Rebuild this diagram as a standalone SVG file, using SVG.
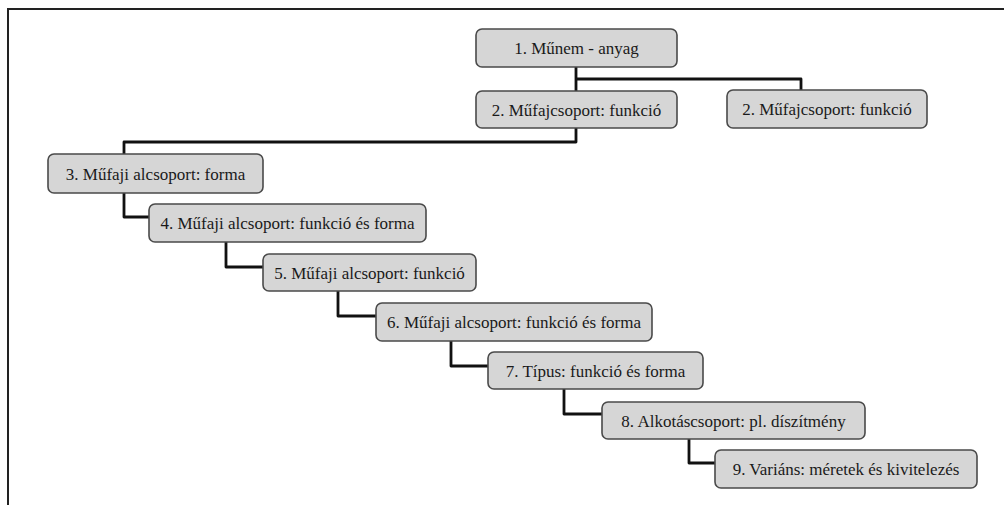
<svg xmlns="http://www.w3.org/2000/svg" width="1004" height="505" viewBox="0 0 1004 505">
<style>
.box{fill:#d6d6d6;stroke:#4a4a4a;stroke-width:1.6}
.lbl{font-family:"Liberation Serif","Times New Roman",serif;font-size:17px;fill:#1a1a1a;text-anchor:middle}
.con{fill:none;stroke:#111;stroke-width:2.8;stroke-linejoin:round}
.frame{fill:none;stroke:#222;stroke-width:2}
</style>
<rect width="1004" height="505" fill="#ffffff"/>
<path class="frame" d="M8,505 V9 H1004"/>
<g id="connectors">
<path class="con" d="M576,67 V91"/>
<path class="con" d="M576,79 H801 V90"/>
<path class="con" d="M576,128 V142 H124 V154"/>
<path class="con" d="M124,193 V217 H149"/>
<path class="con" d="M226,242 V267 H263"/>
<path class="con" d="M338,291 V316 H376"/>
<path class="con" d="M451,341 V366 H488"/>
<path class="con" d="M564,389 V414 H602"/>
<path class="con" d="M689,439 V463 H715"/>
</g>
<g id="n1"><rect class="box" x="476" y="29" width="201" height="38" rx="6"/><text class="lbl" x="576.5" y="54">1. Műnem - anyag</text></g>
<g id="n2a"><rect class="box" x="476" y="91" width="201" height="37" rx="6"/><text class="lbl" x="576.5" y="115.5">2. Műfajcsoport: funkció</text></g>
<g id="n2b"><rect class="box" x="727" y="90" width="200" height="38" rx="6"/><text class="lbl" x="827" y="115">2. Műfajcsoport: funkció</text></g>
<g id="n3"><rect class="box" x="48" y="154" width="215" height="39" rx="6"/><text class="lbl" x="155.5" y="179.5">3. Műfaji alcsoport: forma</text></g>
<g id="n4"><rect class="box" x="149" y="204" width="277" height="38" rx="6"/><text class="lbl" x="287.5" y="229">4. Műfaji alcsoport: funkció és forma</text></g>
<g id="n5"><rect class="box" x="263" y="254" width="213" height="37" rx="6"/><text class="lbl" x="369.5" y="278.5">5. Műfaji alcsoport: funkció</text></g>
<g id="n6"><rect class="box" x="376" y="303" width="276" height="38" rx="6"/><text class="lbl" x="514" y="328">6. Műfaji alcsoport: funkció és forma</text></g>
<g id="n7"><rect class="box" x="488" y="352" width="215" height="37" rx="6"/><text class="lbl" x="595.5" y="376.5">7. Típus: funkció és forma</text></g>
<g id="n8"><rect class="box" x="602" y="402" width="263" height="37" rx="6"/><text class="lbl" x="733.5" y="426.5">8. Alkotáscsoport: pl. díszítmény</text></g>
<g id="n9"><rect class="box" x="715" y="450" width="262" height="38" rx="6"/><text class="lbl" x="846" y="475">9. Variáns: méretek és kivitelezés</text></g>
</svg>
